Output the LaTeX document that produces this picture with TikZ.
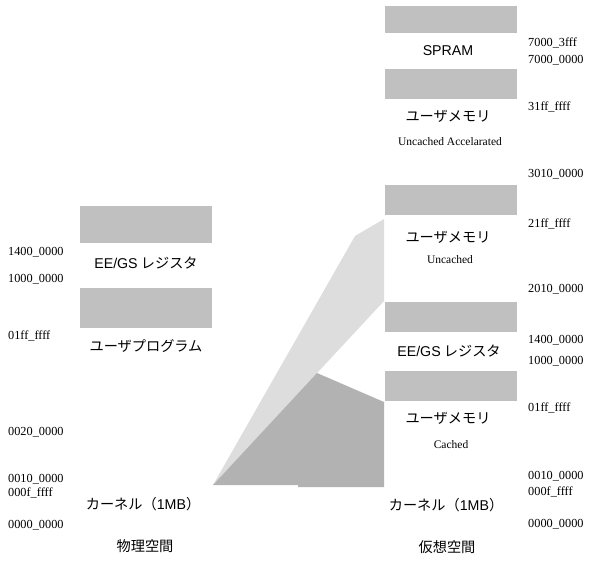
\documentclass[tikz,border=0pt]{standalone}
\usepackage{fontspec}
\setmainfont{Liberation Serif}
\newfontfamily\jp{Noto Sans CJK JP}
\newfontfamily\lat{Liberation Sans}
\definecolor{boxgray}{HTML}{C0C0C0}
\definecolor{lightmap}{HTML}{DDDDDD}
\definecolor{darkmap}{HTML}{B2B2B2}
\begin{document}
\begin{tikzpicture}[x=1pt,y=-1pt,
  blk/.style={fill=boxgray, draw=none, inner sep=0, minimum width=132pt},
  jplabel/.style={font=\jp\fontsize{14.2}{15}\selectfont, inner sep=0},
  addr/.style={font=\fontsize{12.3}{13}\selectfont, inner sep=0, anchor=west},
  sublabel/.style={font=\fontsize{11.5}{12}\selectfont, inner sep=0}]
\path[use as bounding box] (0,0) rectangle (599,562);
% mapping polygons
\fill[lightmap] (213,485) -- (355,236) -- (384,219) -- (384,301) -- cycle;
\fill[darkmap] (213,485) -- (317,373) -- (384,402) -- (384,487) -- (298,487) -- (298,485) -- cycle;
% physical space boxes
\node[blk, minimum height=37pt] (p1) at (146,224.5) {};
\node[blk, minimum height=40pt] (p2) at (146,308) {};
% virtual space boxes
\node[blk, minimum height=27pt] (v1) at (451,19.5) {};
\node[blk, minimum height=30pt] (v2) at (451,84) {};
\node[blk, minimum height=30pt] (v3) at (451,200) {};
\node[blk, minimum height=30pt] (v4) at (451,317) {};
\node[blk, minimum height=30pt] (v5) at (451,386) {};
% physical labels
\node[jplabel] (pl1) at (146,263) {{\lat EE/GS} レジスタ};
\node[jplabel] (pl2) at (146,346) {ユーザプログラム};
\node[jplabel] (pl3) at (143,504) {カーネル（{\lat 1MB}）};
\node[jplabel] (pl4) at (145,546) {物理空間};
\node[addr] (pa1) at (8,252) {1400\_0000};
\node[addr] (pa2) at (8,279) {1000\_0000};
\node[addr] (pa3) at (8,336) {01ff\_ffff};
\node[addr] (pa4) at (8,432) {0020\_0000};
\node[addr] (pa5) at (8,479) {0010\_0000};
\node[addr] (pa6) at (8,493) {000f\_ffff};
\node[addr] (pa7) at (8,525) {0000\_0000};
% virtual labels
\node[jplabel] (vl1) at (448,51) {\lat SPRAM};
\node[jplabel] (vl2) at (448,116) {ユーザメモリ};
\node[sublabel] (vs2) at (450,142) {Uncached Accelarated};
\node[jplabel] (vl3) at (448,237) {ユーザメモリ};
\node[sublabel] (vs3) at (450,260) {Uncached};
\node[jplabel] (vl4) at (449,351) {{\lat EE/GS} レジスタ};
\node[jplabel] (vl5) at (448,418) {ユーザメモリ};
\node[sublabel] (vs5) at (451,445) {Cached};
\node[jplabel] (vl6) at (446,505) {カーネル（{\lat 1MB}）};
\node[jplabel] (vl7) at (447,547) {仮想空間};
\node[addr] (va1) at (528,43) {7000\_3fff};
\node[addr] (va2) at (528,60) {7000\_0000};
\node[addr] (va3) at (528,107) {31ff\_ffff};
\node[addr] (va4) at (528,174) {3010\_0000};
\node[addr] (va5) at (528,224) {21ff\_ffff};
\node[addr] (va6) at (528,289) {2010\_0000};
\node[addr] (va7) at (528,340) {1400\_0000};
\node[addr] (va8) at (528,361) {1000\_0000};
\node[addr] (va9) at (528,408) {01ff\_ffff};
\node[addr] (va10) at (528,476) {0010\_0000};
\node[addr] (va11) at (528,492) {000f\_ffff};
\node[addr] (va12) at (528,524) {0000\_0000};
\end{tikzpicture}
\end{document}
